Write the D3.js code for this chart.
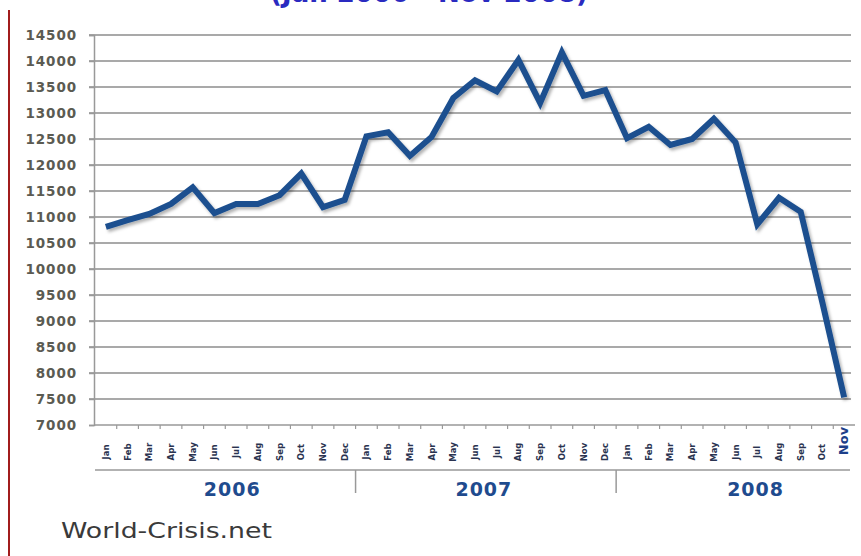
<!DOCTYPE html>
<html>
<head>
<meta charset="utf-8">
<script src="https://cdn.jsdelivr.net/npm/d3@7"></script>
<style>
  html, body { margin: 0; padding: 0; background: #fff; }
  svg { display: block; }
</style>
</head>
<body>
<svg id="chart" width="861" height="556"></svg>
<script>
// Monthly index level, Jan 2006 – Nov 2008
const months = ["Jan","Feb","Mar","Apr","May","Jun","Jul","Aug","Sep","Oct","Nov","Dec"];
const years = ["2006", "2007", "2008"];
const monthsPerYear = [12, 12, 11];
const values = [
  10810, 10940, 11060, 11250, 11570, 11075, 11250, 11250, 11420, 11835, 11190, 11330,
  12550, 12630, 12175, 12540, 13290, 13630, 13415, 14020, 13195, 14165, 13330, 13440,
  12515, 12735, 12385, 12500, 12890, 12435, 10860, 11370, 11100, 9350, 7530
];
const yTicks = [7000, 7500, 8000, 8500, 9000, 9500, 10000, 10500, 11000, 11500,
                12000, 12500, 13000, 13500, 14000, 14500];
const titleText = "(Jan 2006 - Nov 2008)";
const sourceText = "World-Crisis.net";

// Build the category list (one entry per month)
const cats = [];
years.forEach((yr, yi) => {
  for (let m = 0; m < monthsPerYear[yi]; m++) cats.push({ key: yr + "-" + months[m], year: yr, month: months[m] });
});
const points = cats.map((c, i) => ({ ...c, value: values[i] }));

const svg = d3.select("#chart");

const x = d3.scaleBand().domain(cats.map(c => c.key)).range([95, 855]);
const y = d3.scaleLinear().domain([7000, 14500]).range([425, 35]);
const cx = k => x(k) + x.bandwidth() / 2;

// Drop shadow for the data line
const defs = svg.append("defs");
const f = defs.append("filter").attr("id", "shadow").attr("x", "-5%").attr("y", "-5%").attr("width", "110%").attr("height", "110%");
f.append("feDropShadow").attr("dx", 2).attr("dy", 2.5).attr("stdDeviation", 1.6)
  .attr("flood-color", "#000").attr("flood-opacity", 0.3);

// Left red border
svg.append("line").attr("x1", 9).attr("x2", 9).attr("y1", 10).attr("y2", 556)
  .attr("stroke", "#a11c1c").attr("stroke-width", 2);

// Title (runs off the top edge of the panel)
svg.append("text").attr("x", 429).attr("y", 2).attr("text-anchor", "middle")
  .attr("font-family", "DejaVu Sans").attr("font-weight", "bold").attr("font-size", 26)
  .attr("fill", "#2a2ac0").text(titleText);

// Horizontal gridlines
svg.append("g").selectAll("line").data(yTicks.filter(t => t > 7000)).join("line")
  .attr("x1", 89).attr("x2", 851)
  .attr("y1", d => y(d)).attr("y2", d => y(d))
  .attr("stroke", "#a9a9a9").attr("stroke-width", 2.2);

// Y axis
const yAxis = d3.axisLeft(y).tickValues(yTicks).tickFormat(d3.format("d")).tickSize(5).tickPadding(12);
const gy = svg.append("g").attr("transform", "translate(94,0)").call(yAxis);
gy.select(".domain").attr("stroke", "#999").attr("stroke-width", 1.5);
gy.selectAll(".tick line").attr("stroke", "#999").attr("stroke-width", 1.5);
gy.selectAll(".tick text")
  .attr("font-family", "DejaVu Sans").attr("font-size", 13.5).attr("font-weight", "bold")
  .attr("letter-spacing", "0.9").attr("fill", "#5b5b52");

// X axis line and tick marks between months
svg.append("line").attr("x1", 94).attr("x2", 855).attr("y1", y(7000)).attr("y2", y(7000))
  .attr("stroke", "#999").attr("stroke-width", 1.5);
svg.append("g").selectAll("line").data(cats.slice(1)).join("line")
  .attr("x1", d => x(d.key)).attr("x2", d => x(d.key))
  .attr("y1", y(7000)).attr("y2", y(7000) + 4)
  .attr("stroke", "#999").attr("stroke-width", 1.2);

// Month labels (rotated)
svg.append("g").selectAll("text").data(cats).join("text")
  .attr("transform", (d, i) => i === cats.length - 1
    ? `translate(${cx(d.key) + 4},441) rotate(-90)`
    : `translate(${cx(d.key) + 3},452) rotate(-90)`)
  .attr("text-anchor", "middle")
  .attr("font-family", "DejaVu Sans").attr("font-weight", "bold")
  .attr("font-size", (d, i) => i === cats.length - 1 ? 13 : 8.5)
  .attr("fill", (d, i) => i === cats.length - 1 ? "#1d3f8a" : "#2a3350")
  .text(d => d.month);

// Year band separator and dividers
svg.append("line").attr("x1", 95).attr("x2", 850).attr("y1", 470).attr("y2", 470)
  .attr("stroke", "#999").attr("stroke-width", 1.5);
const yearStarts = years.map(yr => cats.find(c => c.year === yr));
svg.append("g").selectAll("line").data(yearStarts.slice(1)).join("line")
  .attr("x1", d => x(d.key)).attr("x2", d => x(d.key))
  .attr("y1", 470).attr("y2", 493)
  .attr("stroke", "#999").attr("stroke-width", 1.5);

// Year labels centred on their months (nudged as in the layout)
const yearNudge = [7, -2, 20];
svg.append("g").selectAll("text").data(years).join("text")
  .attr("x", (yr, i) => {
    const ks = cats.filter(c => c.year === yr);
    const start = x(ks[0].key), end = x(ks[ks.length - 1].key) + x.bandwidth();
    return (start + end) / 2 + yearNudge[i];
  })
  .attr("y", 496).attr("text-anchor", "middle")
  .attr("font-family", "DejaVu Sans").attr("font-weight", "bold").attr("font-size", 19)
  .attr("letter-spacing", "1").attr("fill", "#1f4b8e")
  .text(d => d);

// Data line
const line = d3.line().x(d => cx(d.key)).y(d => y(d.value)).curve(d3.curveLinear);
svg.append("path").datum(points)
  .attr("d", line)
  .attr("fill", "none").attr("stroke", "#1c4f8f").attr("stroke-width", 6)
  .attr("stroke-linejoin", "miter").attr("stroke-linecap", "butt")
  .attr("filter", "url(#shadow)");

// Source note
svg.append("text").attr("x", 61).attr("y", 538)
  .attr("font-family", "DejaVu Sans").attr("font-size", 21)
  .attr("textLength", 211).attr("lengthAdjust", "spacingAndGlyphs")
  .attr("fill", "#3a3a3a").text(sourceText);
</script>
</body>
</html>
